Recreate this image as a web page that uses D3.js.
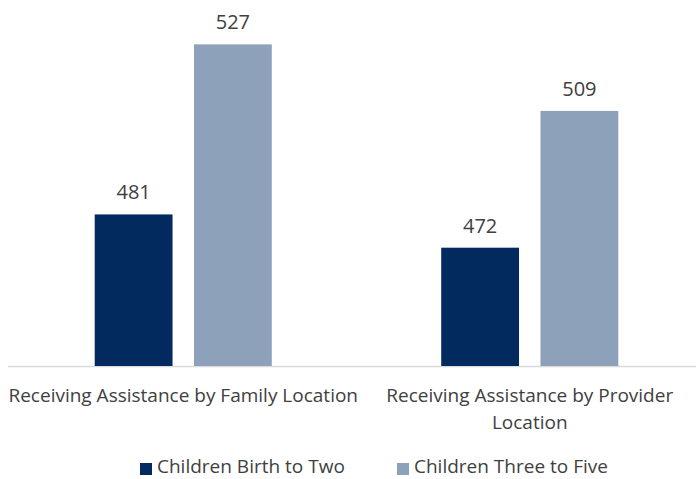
<!DOCTYPE html>
<html>
<head>
<meta charset="utf-8">
<script src="https://cdn.jsdelivr.net/npm/d3@7"></script>
<style>
  body { margin: 0; background: #fff; }
  svg { display: block; font-family: 'Open Sans', sans-serif; }
</style>
</head>
<body>
<div id="chart"></div>
<script>
const categories = ['Receiving Assistance by Family Location', 'Receiving Assistance by Provider Location']
const series = ['Children Birth to Two', 'Children Three to Five']
const birthToTwo = [481, 472]
const threeToFive = [527, 509]

const width = 696
const height = 479
const baseY = 366

const colors = ['#022a5e', '#8ea1ba']

const data = categories.map((c, i) => ({
  cat: c,
  values: [birthToTwo[i], threeToFive[i]]
}))

const x0 = d3.scaleBand()
  .domain(categories)
  .range([10, 703])
  .paddingInner(0.489)
  .paddingOuter(0.2445)

const x1 = d3.scaleBand()
  .domain(series)
  .range([0, x0.bandwidth()])
  .paddingInner(0.216)

const y = d3.scaleLinear()
  .domain([440, 539])
  .range([baseY, 0])

const color = d3.scaleOrdinal()
  .domain(series)
  .range(colors)

const svg = d3.select('#chart')
  .append('svg')
  .attr('width', width)
  .attr('height', height)

// axis line
svg.append('line')
  .attr('x1', 8)
  .attr('x2', width)
  .attr('y1', baseY + 0.5)
  .attr('y2', baseY + 0.5)
  .attr('stroke', '#d9d9d9')
  .attr('stroke-width', 1.5)

const groups = svg.selectAll('g.group')
  .data(data)
  .enter()
  .append('g')
  .attr('class', 'group')
  .attr('transform', d => `translate(${x0(d.cat)},0)`)

groups.selectAll('rect')
  .data(d => d.values.map((v, j) => ({ key: series[j], value: v })))
  .enter()
  .append('rect')
  .attr('x', d => x1(d.key))
  .attr('width', x1.bandwidth())
  .attr('y', d => y(d.value))
  .attr('height', d => baseY - y(d.value))
  .attr('fill', d => color(d.key))

groups.selectAll('text.value')
  .data(d => d.values.map((v, j) => ({ key: series[j], value: v })))
  .enter()
  .append('text')
  .attr('class', 'value')
  .attr('x', d => x1(d.key) + x1.bandwidth() / 2)
  .attr('y', d => y(d.value) - 15)
  .attr('text-anchor', 'middle')
  .attr('font-size', 20)
  .attr('fill', '#404040')
  .text(d => d.value)

// category labels, wrapped
const maxW = 355
categories.forEach(c => {
  const cx = x0(c) + x0.bandwidth() / 2
  const t = svg.append('text')
    .attr('x', cx)
    .attr('y', 402)
    .attr('text-anchor', 'middle')
    .attr('font-size', 19)
    .attr('fill', '#404040')
  const words = c.split(' ')
  let line = []
  let tspan = t.append('tspan').attr('x', cx).attr('dy', 0)
  words.forEach(w => {
    line.push(w)
    tspan.text(line.join(' '))
    if (tspan.node().getComputedTextLength() > maxW && line.length > 1) {
      line.pop()
      tspan.text(line.join(' '))
      line = [w]
      tspan = t.append('tspan')
        .attr('x', cx)
        .attr('dy', 27)
        .text(w)
    }
  })
})

// legend
const legendX = [140, 397]
const legend = svg.selectAll('g.legend')
  .data(series)
  .enter()
  .append('g')
  .attr('class', 'legend')
  .attr('transform', (d, i) => `translate(${legendX[i]},463)`)

legend.append('rect')
  .attr('width', 12)
  .attr('height', 12)
  .attr('fill', d => color(d))

legend.append('text')
  .attr('x', 17)
  .attr('y', 10)
  .attr('font-size', 19)
  .attr('fill', '#404040')
  .text(d => d)
</script>
</body>
</html>
